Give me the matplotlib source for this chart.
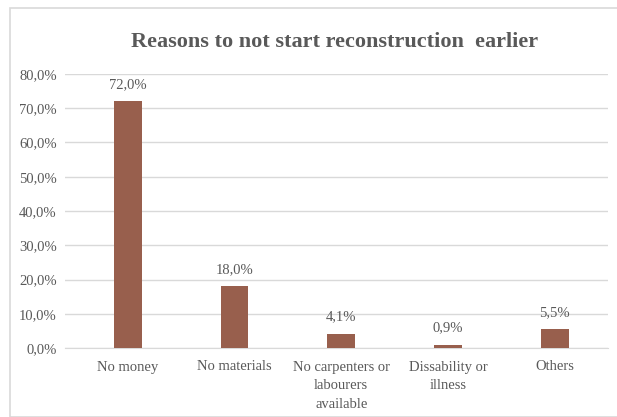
import numpy as np
import matplotlib.pyplot as plt
from matplotlib.patches import Rectangle

categories = ["No money", "No materials", "No carpenters or\nlabourers\navailable",
              "Dissability or\nillness", "Others"]
values = [72.0, 18.0, 4.1, 0.9, 5.5]
yticks = [0, 10, 20, 30, 40, 50, 60, 70, 80]

plt.rcParams['font.family'] = ['Liberation Serif', 'DejaVu Serif']
txt = '#595959'

fig = plt.figure(figsize=(6.17, 4.17), dpi=100)
fig.patches.append(Rectangle((10 / 617, 0), 1, 1 - 8 / 417, transform=fig.transFigure,
                             fill=False, edgecolor='#d9d9d9', linewidth=1.2))
ax = fig.add_axes([65 / 617, 69 / 417, 543 / 617, 274 / 417])

x = np.arange(len(values))
ax.bar(x, values, width=0.26, color='#985f4d', zorder=3)
for xi, v in zip(x, values):
    ax.text(xi, v + 3.0, f"{v:.1f}%".replace('.', ','), ha='center', va='bottom',
            fontsize=10.5, color=txt)

ax.set_ylim(0, 80)
ax.set_xlim(-0.59, 4.5)
ax.set_yticks(yticks)
ax.set_yticklabels([f"{t:.1f}%".replace('.', ',') for t in yticks])
ax.set_xticks(x)
ax.set_xticklabels(categories, linespacing=1.55)
ax.tick_params(axis='both', length=0, labelsize=10.5, colors=txt)
ax.tick_params(axis='y', pad=6)
ax.tick_params(axis='x', pad=9)
ax.grid(axis='y', color='#d9d9d9', linewidth=1, zorder=0)
for s in ['top', 'right', 'left']:
    ax.spines[s].set_visible(False)
ax.spines['bottom'].set_color('#d9d9d9')

fig.text(0.542, 0.9, "Reasons to not start reconstruction  earlier", ha='center',
         va='center', fontsize=16, fontweight='bold', color=txt)

fig.savefig("out.png", dpi=100)
